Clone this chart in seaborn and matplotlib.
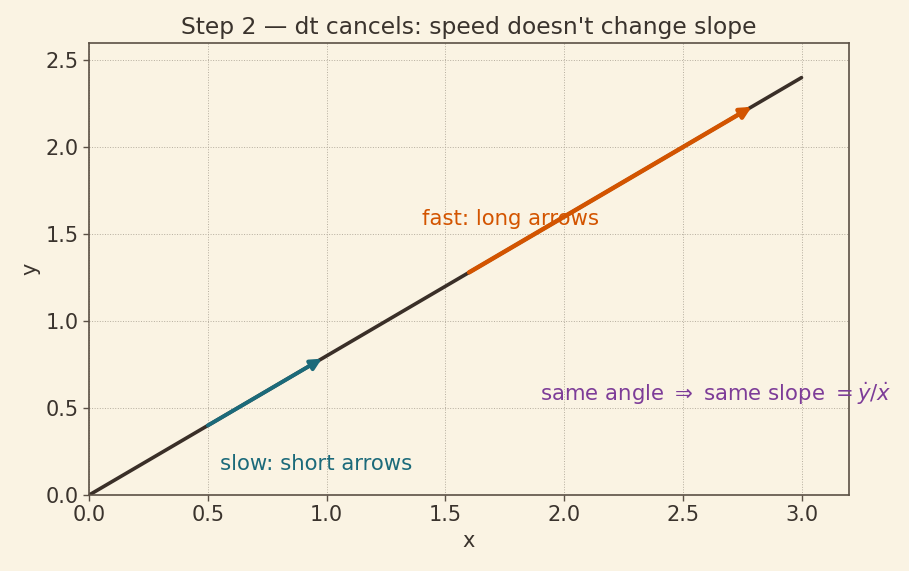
'''
Step 2 sketch: dt cancels, speed does not change the slope
'''
import pandas            as pnd
import seaborn           as sns
import matplotlib.pyplot as plt

# ----------------------
line_x    = [0.0, 3.0]
line_y    = [0.0, 2.4]

slow_tail = (0.50, 0.40)
slow_head = (0.98, 0.784)
fast_tail = (1.60, 1.28)
fast_head = (2.79, 2.232)

x_ticks   = [0.0, 0.5, 1.0, 1.5, 2.0, 2.5, 3.0]
y_ticks   = [0.0, 0.5, 1.0, 1.5, 2.0, 2.5]

title     = "Step 2 — dt cancels: speed doesn't change slope"
slow_lab  = 'slow: short arrows'
fast_lab  = 'fast: long arrows'
note_lab  = r'same angle $\Rightarrow$ same slope $= \dot{y}/\dot{x}$'
# ----------------------
bg_col    = '#faf3e3'
ink_col   = '#3a332d'
spine_col = '#5b5045'
line_col  = '#3a2f28'
slow_col  = '#1b6a7a'
fast_col  = '#d35400'
note_col  = '#7d3c98'
fsize     = 15
asize     = 15.35
# ----------------------
def _style() -> None:
    sns.set_theme(style='ticks', rc={
        'figure.facecolor' : bg_col,
        'axes.facecolor'   : bg_col,
        'axes.edgecolor'   : spine_col,
        'axes.labelcolor'  : ink_col,
        'xtick.color'      : spine_col,
        'ytick.color'      : spine_col,
        'xtick.labelcolor' : ink_col,
        'ytick.labelcolor' : ink_col,
        'text.color'       : ink_col,
    })
    plt.rcParams['font.family'] = ['DejaVu Sans']
# ----------------------
def _arrow(ax, tail, head, color, lw) -> None:
    ax.annotate('', xy=head, xytext=tail,
                arrowprops=dict(arrowstyle='-|>', color=color, lw=lw,
                                mutation_scale=16, shrinkA=0, shrinkB=0))
# ----------------------
def main():
    _style()
    fig, ax = plt.subplots(figsize=(9.09, 5.71), dpi=100)
    fig.subplots_adjust(left=0.098, right=0.934, top=0.925, bottom=0.133)

    df = pnd.DataFrame({'x' : line_x, 'y' : line_y})
    sns.lineplot(data=df, x='x', y='y', ax=ax, color=line_col, lw=2.6)

    _arrow(ax, slow_tail, slow_head, slow_col, 2.8)
    _arrow(ax, fast_tail, fast_head, fast_col, 3.2)

    ax.text(0.55, 0.18, slow_lab, color=slow_col, fontsize=asize, va='center')
    ax.text(1.40, 1.585, fast_lab, color=fast_col, fontsize=asize, va='center')
    ax.text(1.90, 0.585, note_lab, color=note_col, fontsize=asize, va='center')

    ax.set_xlim(0, 3.2)
    ax.set_ylim(0, 2.6)
    ax.set_xticks(x_ticks)
    ax.set_yticks(y_ticks)
    ax.tick_params(labelsize=fsize, width=1.0, length=4)
    ax.grid(True, ls=':', lw=0.7, color='#b5ad9e')
    for spine in ax.spines.values():
        spine.set_visible(True)
        spine.set_linewidth(1.2)

    ax.set_xlabel('x', fontsize=fsize)
    ax.set_ylabel('y', fontsize=fsize)
    ax.set_title(title, fontsize=16.8, color=ink_col)

    fig.savefig('out.png', dpi=100, facecolor=bg_col)
# ----------------------
if __name__ == '__main__':
    main()
